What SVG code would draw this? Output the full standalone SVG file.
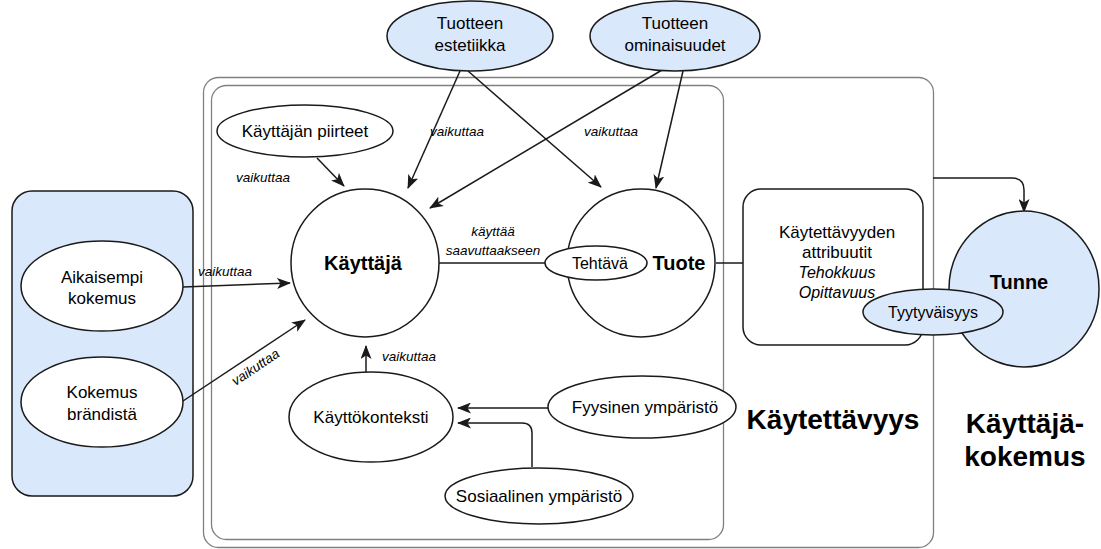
<svg xmlns="http://www.w3.org/2000/svg" width="1101" height="549" viewBox="0 0 1101 549">
<defs>
<marker id="arr" viewBox="0 0 14 11" refX="13" refY="5.5" markerWidth="14" markerHeight="11" markerUnits="userSpaceOnUse" orient="auto">
<path d="M0,0 L14,5.5 L0,11 L3.5,5.5 z" fill="#1a1a1a"/>
</marker>
<style>
.frame{fill:none;stroke:#808080;stroke-width:1.3}
.node{fill:#ffffff;stroke:#1a1a1a;stroke-width:1.5}
.blue{fill:#dae8fc;stroke:#1a1a1a;stroke-width:1.5}
.edge{fill:none;stroke:#1a1a1a;stroke-width:1.5;marker-end:url(#arr)}
text{font-family:"Liberation Sans",Arial,sans-serif;fill:#000;text-anchor:middle}
.t{font-size:17px}
.s{font-size:16px}
.b{font-size:20px;font-weight:bold}
.lbl{font-size:13.5px;font-style:italic}
.big{font-size:28px;font-weight:bold}
</style>
</defs>
<rect width="1101" height="549" fill="#ffffff"/>
<g id="frames">
<rect class="frame" x="203.5" y="77.5" width="730" height="470" rx="15"/>
<rect class="frame" x="211.5" y="85.5" width="512" height="454" rx="15"/>
</g>
<g id="panel-left">
<rect class="blue" x="12" y="191" width="181" height="305" rx="20"/>
</g>
<g id="connectors">
<path class="edge" d="M183,287 L290,283"/>
<path class="edge" d="M183,401 L305,320"/>
<path class="edge" d="M317,158 L344,186"/>
<path class="edge" d="M460,71 L408,188"/>
<path class="edge" d="M468,71 L601,187"/>
<path class="edge" d="M662,70 L430,208"/>
<path class="edge" d="M683,71 L656,188"/>
<path class="edge" d="M439,263 L567,263"/>
<path class="edge" d="M366,372 L366,346"/>
<path class="edge" d="M548,408 L458,408"/>
<path class="edge" d="M532,467 L532,433 Q532,423 522,423 L458,423"/>
<path class="edge" d="M716,263 L766,263"/>
<path class="edge" d="M933,178 L1012,178 Q1024,178 1024,190 L1024,212"/>
</g>
<g id="labels">
<text class="lbl" x="225" y="276">vaikuttaa</text>
<text class="lbl" x="258" y="371" transform="rotate(-34 258 371)">vaikuttaa</text>
<text class="lbl" x="263" y="182">vaikuttaa</text>
<text class="lbl" x="457" y="136">vaikuttaa</text>
<text class="lbl" x="611" y="136">vaikuttaa</text>
<text class="lbl" x="493" y="236">käyttää</text>
<text class="lbl" x="493" y="255">saavuttaakseen</text>
<text class="lbl" x="409" y="361">vaikuttaa</text>
</g>
<g id="n-aikaisempi">
<ellipse class="node" cx="102" cy="286" rx="81" ry="45"/>
<text class="t" x="102" y="283">Aikaisempi</text>
<text class="t" x="102" y="304">kokemus</text>
</g>
<g id="n-brandi">
<ellipse class="node" cx="102" cy="402" rx="81" ry="45"/>
<text class="t" x="102" y="398">Kokemus</text>
<text class="t" x="102" y="420">brändistä</text>
</g>
<g id="n-estetiikka">
<ellipse class="blue" cx="470" cy="36" rx="83" ry="35"/>
<text class="t" x="470" y="29">Tuotteen</text>
<text class="t" x="470" y="51">estetiikka</text>
</g>
<g id="n-ominaisuudet">
<ellipse class="blue" cx="675" cy="36" rx="85" ry="35"/>
<text class="t" x="675" y="29">Tuotteen</text>
<text class="t" x="675" y="51">ominaisuudet</text>
</g>
<g id="n-piirteet">
<ellipse class="node" cx="305" cy="131" rx="88" ry="26"/>
<text class="t" x="305" y="137">Käyttäjän piirteet</text>
</g>
<g id="n-kayttaja">
<circle class="node" cx="365" cy="263" r="74"/>
<text class="b" x="363" y="270">Käyttäjä</text>
</g>
<g id="n-tuote">
<circle class="node" cx="641" cy="263" r="74"/>
<text class="b" x="679" y="270">Tuote</text>
</g>
<g id="n-tehtava">
<ellipse class="node" cx="596" cy="263" rx="51" ry="17"/>
<text class="s" x="600" y="269">Tehtävä</text>
</g>
<g id="n-konteksti">
<ellipse class="node" cx="371" cy="417" rx="82" ry="45"/>
<text class="t" x="371" y="423">Käyttökonteksti</text>
</g>
<g id="n-fyysinen">
<ellipse class="node" cx="642" cy="407" rx="94" ry="31"/>
<text class="t" x="645" y="413">Fyysinen ympäristö</text>
</g>
<g id="n-sosiaalinen">
<ellipse class="node" cx="539" cy="496" rx="94" ry="28"/>
<text class="t" x="539" y="502">Sosiaalinen ympäristö</text>
</g>
<g id="n-attribuutit">
<rect class="node" x="743" y="189" width="180" height="156" rx="18"/>
<text class="t" x="837" y="238">Käytettävyyden</text>
<text class="t" x="837" y="258">attribuutit</text>
<text class="s" x="837" y="278" font-style="italic">Tehokkuus</text>
<text class="s" x="837" y="298" font-style="italic">Opittavuus</text>
</g>
<g id="n-tunne">
<ellipse class="blue" cx="1024" cy="289" rx="75" ry="78"/>
<text class="b" x="1019" y="289">Tunne</text>
</g>
<g id="n-tyytyvaisyys">
<ellipse class="blue" cx="933" cy="312" rx="70" ry="23"/>
<text class="s" x="933" y="318">Tyytyväisyys</text>
</g>
<g id="titles">
<text class="big" x="833" y="429">Käytettävyys</text>
<text class="big" x="1025" y="433">Käyttäjä-</text>
<text class="big" x="1025" y="466">kokemus</text>
</g>
</svg>
